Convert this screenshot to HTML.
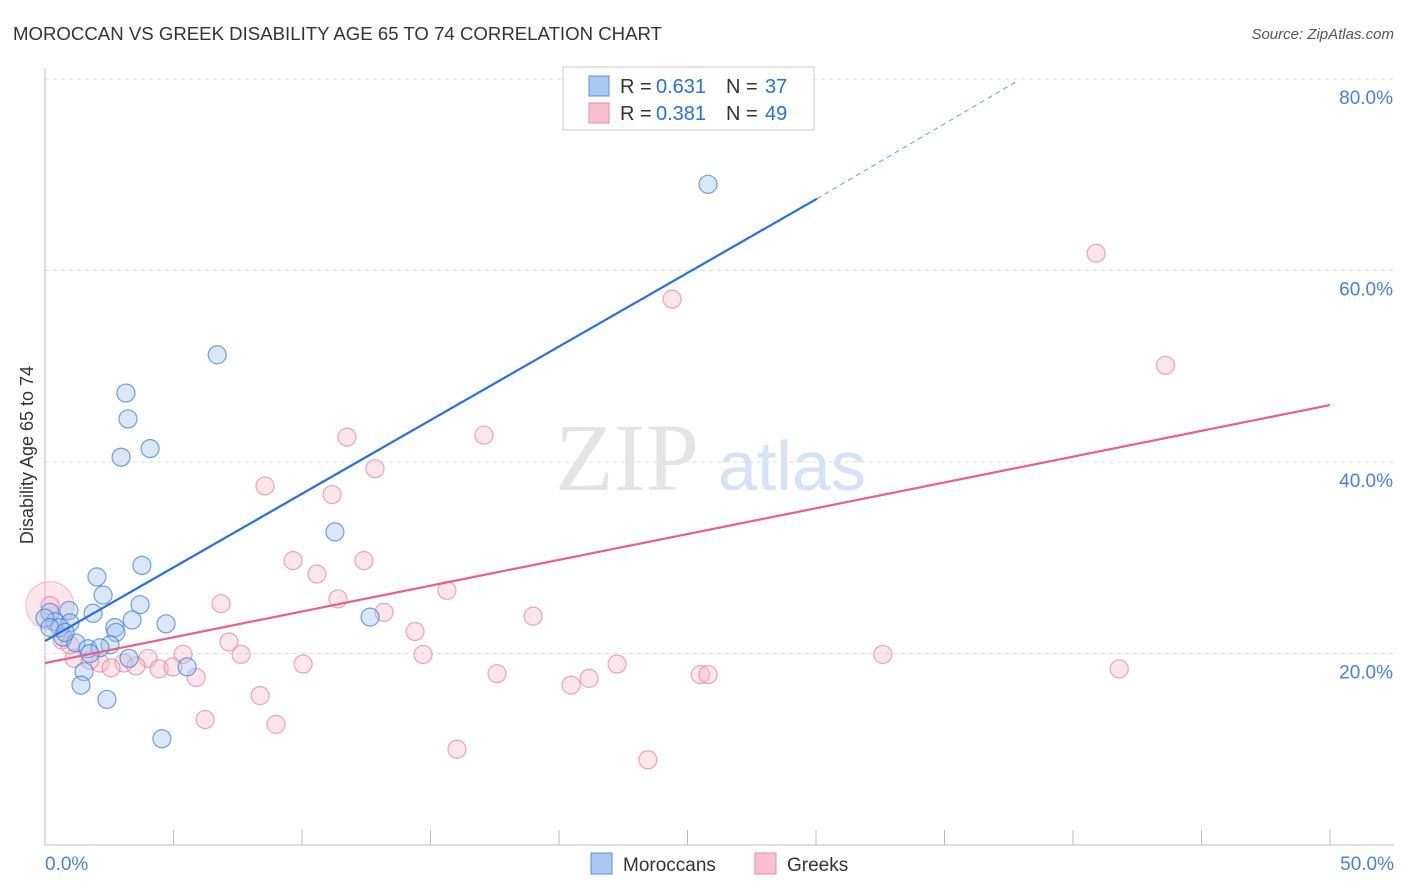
<!DOCTYPE html>
<html><head><meta charset="utf-8"><style>
body{margin:0;background:#fff;font-family:"Liberation Sans",sans-serif;}
#c{position:absolute;left:0;top:0;}
</style></head><body>
<svg id="c" width="1406" height="892"></svg>
<script>
const blueX=[25.8,6.7,3.15,3.23,4.09,2.96,11.28,3.77,2.02,2.26,3.7,0.93,1.87,0.19,0.39,0.97,3.39,4.71,12.65,2.72,2.76,0.70,1.2,2.53,1.67,2.14,3.27,5.53,1.52,1.4,2.41,4.55,0,0.58,0.19,1.75,0.78];
const blueY=[69.0,51.2,47.2,44.5,41.4,40.5,32.7,29.2,28.0,26.1,25.1,24.5,24.2,24.3,23.3,23.2,23.5,23.1,23.8,22.7,22.2,21.7,21.1,20.9,20.5,20.6,19.5,18.6,18.1,16.7,15.2,11.1,23.7,22.7,22.7,20.0,22.2];
const pinkX=[21.6,22.6,40.9,24.4,43.6,11.75,17.08,12.84,8.56,11.17,9.65,12.41,10.58,6.85,11.4,15.64,13.19,18.99,14.4,7.16,7.63,5.37,4.01,1.13,2.14,3.07,10.04,14.71,22.26,32.6,41.8,4.44,4.98,2.57,3.54,5.88,17.59,25.5,25.8,21.17,20.47,8.37,6.23,8.99,16.03,23.46,0.19,0.66,1.75,0.97];
const pinkY=[76.5,76.0,61.8,57.0,50.1,42.6,42.8,39.3,37.5,36.6,29.7,29.7,28.3,25.2,25.7,26.6,24.3,23.9,22.3,21.2,19.9,19.9,19.5,19.5,19.0,19.0,18.9,19.9,18.9,19.9,18.4,18.4,18.6,18.5,18.7,17.5,17.9,17.8,17.8,17.4,16.7,15.6,13.1,12.6,10.0,8.9,25.0,21.4,19.3,20.9];
const yTicks=[20,40,60,80];
const xTickLabels=["0.0%","50.0%"];
const blueTrend=[[0,21.3],[30.04,67.5],[37.9,79.9]];
const pinkTrend=[[0,19.0],[50,45.95]];
const X=v=>45+v*25.7, Y=v=>845-v*9.575;
const s=document.getElementById('c');const NS="http://www.w3.org/2000/svg";
function el(t,a,txt){const e=document.createElementNS(NS,t);for(const k in a)e.setAttribute(k,a[k]);if(txt!==undefined)e.textContent=txt;s.appendChild(e);return e;}
let e;
e=el('text',{x:13,y:40,'font-size':18,fill:'#333',textLength:649,lengthAdjust:'spacingAndGlyphs'},'MOROCCAN VS GREEK DISABILITY AGE 65 TO 74 CORRELATION CHART');

e=el('text',{x:1394,y:39,'font-size':15,fill:'#555','text-anchor':'end','font-style':'italic'},'Source: ZipAtlas.com');

yTicks.forEach(t=>{e=el('line',{x1:45,x2:1394,y1:Y(t),y2:Y(t),stroke:'#ddd','stroke-dasharray':'4,4'});

e=el('text',{x:1393,y:Y(t)+25,'font-size':19,fill:'#4a7fd4','text-anchor':'end'},t.toFixed(1)+'%');
});
e=el('line',{x1:45,x2:45,y1:68,y2:845,stroke:'#bbb'});
e=el('line',{x1:45,x2:1394,y1:845,y2:845,stroke:'#bbb'});
for(let i=0;i<=10;i++){e=el('line',{x1:X(i*5),x2:X(i*5),y1:830,y2:845,stroke:'#bbb'});}
e=el('text',{x:45,y:870,'font-size':19,fill:'#4a7fd4'},xTickLabels[0]);
e=el('text',{x:1394,y:870,'font-size':19,fill:'#4a7fd4','text-anchor':'end'},xTickLabels[1]);
e=el('text',{x:33,y:455,'font-size':18,fill:'#333','text-anchor':'middle',transform:'rotate(-90 33 455)'},'Disability Age 65 to 74');

e=el('text',{x:555,y:490,'font-size':96,fill:'#e4e4e4','font-family':'Liberation Serif'},'ZIP');
e=el('text',{x:718,y:490,'font-size':70,fill:'#d6e2f5'},'atlas');
e=el('circle',{cx:X(0.19),cy:Y(25.0),r:24,fill:'rgba(248,180,200,0.35)',stroke:'rgba(230,130,160,0.5)'});
pinkX.forEach((v,i)=>{e=el('circle',{cx:X(v),cy:Y(pinkY[i]),r:9,fill:'rgba(248,180,200,0.35)',stroke:'rgba(230,130,160,0.7)','stroke-width':1.2});
});
blueX.forEach((v,i)=>{e=el('circle',{cx:X(v),cy:Y(blueY[i]),r:9,fill:'rgba(160,195,240,0.4)',stroke:'rgba(70,130,210,0.75)','stroke-width':1.2});
});
e=el('line',{x1:X(blueTrend[0][0]),y1:Y(blueTrend[0][1]),x2:X(blueTrend[1][0]),y2:Y(blueTrend[1][1]),stroke:'#2a6fd6','stroke-width':2.2});

e=el('line',{x1:X(blueTrend[1][0]),y1:Y(blueTrend[1][1]),x2:X(blueTrend[2][0]),y2:Y(blueTrend[2][1]),stroke:'#6a9ee0','stroke-width':1,'stroke-dasharray':'5,4'});

e=el('line',{x1:X(pinkTrend[0][0]),y1:Y(pinkTrend[0][1]),x2:X(pinkTrend[1][0]),y2:Y(pinkTrend[1][1]),stroke:'#e8608a','stroke-width':2.2});

e=el('rect',{x:563,y:67,width:251,height:63,fill:'rgba(255,255,255,0.85)',stroke:'#ccc'});
[['#a9c8f2','#5b8fd8','0.631','37',86],['#f8c0d0','#e88aa8','0.381','49',113]].forEach(r=>{
e=el('rect',{x:589,y:r[4]-10,width:20,height:20,fill:r[0],stroke:r[1]});
e=el('text',{x:620,y:r[4]+7,'font-size':20,fill:'#333'},'R =');
e=el('text',{x:656,y:r[4]+7,'font-size':20,fill:'#2a6fd6'},r[2]);
e=el('text',{x:726,y:r[4]+7,'font-size':20,fill:'#333'},'N =');
e=el('text',{x:765,y:r[4]+7,'font-size':20,fill:'#2a6fd6'},r[3]);});
[['#a9c8f2','#5b8fd8','Moroccans',591],['#f8c0d0','#e88aa8','Greeks',755]].forEach(r=>{
e=el('rect',{x:r[3],y:853,width:21,height:21,fill:r[0],stroke:r[1]});
e=el('text',{x:r[3]+32,y:871,'font-size':19,fill:'#333'},r[2]);});
</script></body></html>
